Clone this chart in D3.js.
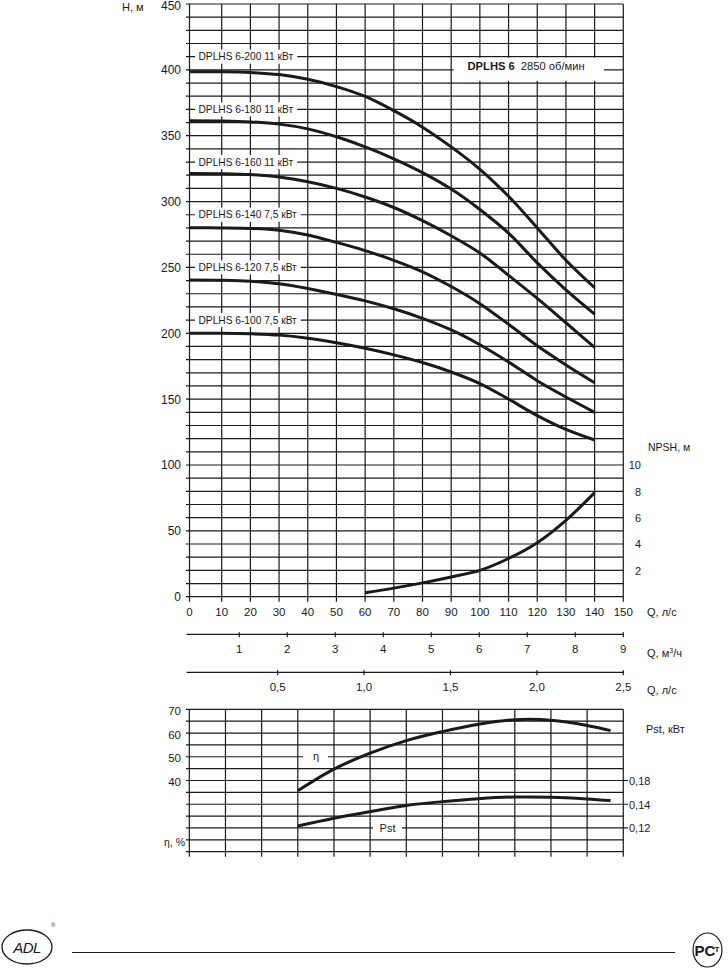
<!DOCTYPE html>
<html><head><meta charset="utf-8">
<script src="https://cdn.jsdelivr.net/npm/d3@7/dist/d3.min.js"></script>
<style>
body{margin:0;background:#fff}
text{font-family:"Liberation Sans",Arial,Helvetica,sans-serif;fill:#1a1a1a}
</style>
</head><body>
<svg id="c" width="728" height="969"></svg>
<script>
// ---------- DATA ----------
const qTicks = [0,10,20,30,40,50,60,70,80,90,100,110,120,130,140,150];
const hTickLabels = [0,50,100,150,200,250,300,350,400,450];
const qPoints = [0,10,20,30,40,50,60,70,80,90,100,110,120,130,140];
const curveNames = ["DPLHS 6-200 11 кВт","DPLHS 6-180 11 кВт","DPLHS 6-160 11 кВт","DPLHS 6-140 7,5 кВт","DPLHS 6-120 7,5 кВт","DPLHS 6-100 7,5 кВт"];
const labelHeads = [410,370,330,290,250,210];
const h200 = [398.5,398.5,398,396.4,392.8,387.3,379.8,369,356.5,341.5,324.5,304,280,255.5,234.6];
const h180 = [361.4,361.2,360.5,358.8,355.2,349.2,341.5,332.5,322,309.5,294,276,253.5,233,214.6];
const h160 = [321.4,321.2,320.5,318.6,315,310,303.5,295.5,285.5,274,261,244,226.5,208,189.3];
const h140 = [280.1,280,279.6,278.2,274.6,269,262.8,255.4,246.7,235.5,222.5,206.8,190.5,176,162.5];
const h120 = [240.4,240.2,239.5,237.6,234,229.5,224.6,218.6,211.3,202.5,191.3,178.2,164,151.6,140];
const h100 = [200,200,199.6,198.6,196.3,192.8,188.6,183.6,177.8,170.6,161.8,150,137.5,127,119];
const npshQ = [60,70,80,90,100,110,120,130,140];
const npshVals = [0.3,0.65,1.05,1.5,2.0,2.9,4.1,5.8,7.9];
const npshTicks = [2,4,6,8,10];
const m3hTicks = [1,2,3,4,5,6,7,8,9];
const lsTicks = [0.5,1.0,1.5,2.0,2.5];
const lsTickLabels = ["0,5","1,0","1,5","2,0","2,5"];
const effQ = [37.5,50,62.5,75,87.5,100,112.5,125,137.5,145.6];
const etaVals = [35.7,44.8,51.5,56.8,60.6,63.7,65.6,65.4,63.2,61];
const pstVals = [0.1217,0.1282,0.1338,0.1390,0.1444,0.1494,0.1522,0.1518,0.1489,0.1461];
const etaTicks = [40,50,60,70];
const pstTicks = [0.12,0.14,0.18];
const pstTickLabels = ["0,12","0,14","0,18"];

// ---------- SETUP ----------
const svg = d3.select("#c");
const ink = "#1a1a1a";
const x = d3.scaleLinear().domain([0,10,150]).range([189.5,221.7,623.3]);
const y = d3.scaleLinear().domain([0,450]).range([596.7,4]);
const yN = d3.scaleLinear().domain([0,45]).range([596.7,4]);
const xm3 = d3.scaleLinear().domain([0,9]).range([191.3,623.3]);
const xls = d3.scaleLinear().domain([0,2.5]).range([191.3,623.3]);
const xb = d3.scaleLinear().domain([0,150]).range([189.3,623.3]);
const yE = d3.scaleLinear().domain([10,70]).range([851.7,709.3]);
const yP = d3.scaleLinear().domain(pstTicks).range([yE(20),yE(30),yE(40)]);
const smooth = d3.curveCatmullRom.alpha(0.5);

// ---------- TOP GRID ----------
const g = svg.append("g");
d3.range(0,451,10).forEach(h=>{
  g.append("line").attr("x1",186).attr("x2",x(150)).attr("y1",y(h)).attr("y2",y(h))
   .attr("stroke",ink).attr("stroke-width",1.2);
});
qTicks.forEach(q=>{
  g.append("line").attr("x1",x(q)).attr("x2",x(q)).attr("y1",y(450)).attr("y2",y(0)+5)
   .attr("stroke",ink).attr("stroke-width",1.2);
});
hTickLabels.forEach(h=>{
  svg.append("text").attr("x",181).attr("y",Math.max(y(h)+4.5,10)).attr("text-anchor","end")
    .attr("font-size",12).text(h);
});
svg.append("text").attr("x",122).attr("y",11).attr("font-size",11).text("H, м");
qTicks.forEach(q=>{
  svg.append("text").attr("x",x(q)).attr("y",616).attr("text-anchor","middle")
    .attr("font-size",11.5).text(q);
});
svg.append("text").attr("x",647).attr("y",616).attr("font-size",11).text("Q, л/с");
npshTicks.forEach(n=>{
  svg.append("text").attr("x",641).attr("y",yN(n)+4.2).attr("text-anchor","end")
    .attr("font-size",11).text(n);
});
svg.append("text").attr("x",648).attr("y",451).attr("font-size",10.5).text("NPSH, м");

// ---------- LEGEND BOX ----------
svg.append("rect").attr("x",453.5).attr("y",57.8).attr("width",150.5).attr("height",23).attr("fill","#fff");
const lt = svg.append("text").attr("x",467.5).attr("y",69.5).attr("font-size",11.2);
lt.append("tspan").attr("font-weight","bold").text("DPLHS 6");
lt.append("tspan").attr("dx",6).text("2850 об/мин");

// ---------- CURVE LABELS ----------
curveNames.forEach((name,i)=>{
  const yy = y(labelHeads[i]);
  const t = svg.append("text").attr("x",198.5).attr("y",yy+3.6).attr("font-size",10.2).text(name);
  const w = t.node().getComputedTextLength();
  svg.insert("rect","text").attr("x",195).attr("y",yy-7).attr("width",w+7.5).attr("height",14).attr("fill","#fff");
});

// ---------- H CURVES ----------
const line = d3.line().x((d,i)=>x(qPoints[i])).y(d=>y(d)).curve(smooth);
[h200,h180,h160,h140,h120,h100].forEach(s=>{
  svg.append("path").attr("d",line(s)).attr("fill","none").attr("stroke",ink)
    .attr("stroke-width",3).attr("stroke-linecap","butt");
});
const nline = d3.line().x((d,i)=>x(npshQ[i])).y(d=>yN(d)).curve(smooth);
svg.append("path").attr("d",nline(npshVals)).attr("fill","none").attr("stroke",ink).attr("stroke-width",3);

// ---------- SECONDARY AXES ----------
function axisLine(yy, scale, ticks, labels){
  svg.append("line").attr("x1",186.5).attr("x2",623.3).attr("y1",yy).attr("y2",yy).attr("stroke",ink).attr("stroke-width",1.2);
  ticks.forEach((t,i)=>{
    svg.append("line").attr("x1",scale(t)).attr("x2",scale(t)).attr("y1",yy-2).attr("y2",yy+3).attr("stroke",ink).attr("stroke-width",1.2);
    svg.append("text").attr("x",scale(t)).attr("y",yy+19).attr("text-anchor","middle").attr("font-size",11.5).text(labels[i]);
  });
}
axisLine(634.3, xm3, m3hTicks, m3hTicks.map(String));
const t2 = svg.append("text").attr("x",647).attr("y",657).attr("font-size",11);
t2.append("tspan").text("Q, м");
t2.append("tspan").attr("font-size",7).attr("dy",-4).text("3");
t2.append("tspan").attr("dy",4).text("/ч");
axisLine(672.3, xls, lsTicks, lsTickLabels);
svg.append("text").attr("x",647).attr("y",694).attr("font-size",11).text("Q, л/с");

// ---------- LOWER CHART ----------
d3.range(10,71,5).forEach(v=>{
  const ext = (v===20||v===30||v===40) ? 628 : 623.3;
  svg.append("line").attr("x1",186).attr("x2",ext).attr("y1",yE(v)).attr("y2",yE(v)).attr("stroke",ink).attr("stroke-width",1.2);
});
d3.range(0,151,12.5).forEach(q=>{
  svg.append("line").attr("x1",xb(q)).attr("x2",xb(q)).attr("y1",yE(70)).attr("y2",yE(10)+5).attr("stroke",ink).attr("stroke-width",1.2);
});
etaTicks.forEach(v=>{
  svg.append("text").attr("x",181).attr("y",yE(v)+5.5).attr("text-anchor","end").attr("font-size",11.5).text(v);
});
svg.append("text").attr("x",185).attr("y",846).attr("text-anchor","end").attr("font-size",10.5).text("η, %");
pstTicks.forEach((p,i)=>{
  svg.append("text").attr("x",629).attr("y",yP(p)+4.5).attr("font-size",11).text(pstTickLabels[i]);
});
svg.append("text").attr("x",646).attr("y",733).attr("font-size",11).text("Pst, кВт");

const eline = d3.line().x((d,i)=>xb(effQ[i])).y(d=>yE(d)).curve(smooth);
svg.append("path").attr("d",eline(etaVals)).attr("fill","none").attr("stroke",ink).attr("stroke-width",3);
const pline = d3.line().x((d,i)=>xb(effQ[i])).y(d=>yP(d)).curve(smooth);
svg.append("path").attr("d",pline(pstVals)).attr("fill","none").attr("stroke",ink).attr("stroke-width",3);

svg.append("rect").attr("x",303).attr("y",yE(50)-6).attr("width",25).attr("height",12).attr("fill","#fff");
svg.append("text").attr("x",316).attr("y",yE(50)+3.5).attr("text-anchor","middle").attr("font-size",11).text("η");
svg.append("rect").attr("x",373).attr("y",yE(20)-6).attr("width",29).attr("height",12).attr("fill","#fff");
svg.append("text").attr("x",387.5).attr("y",yE(20)+4).attr("text-anchor","middle").attr("font-size",11).text("Pst");

// ---------- FOOTER ----------
svg.append("line").attr("x1",72).attr("x2",675).attr("y1",952.5).attr("y2",952.5).attr("stroke",ink).attr("stroke-width",1);
svg.append("ellipse").attr("cx",27).attr("cy",947).attr("rx",25).attr("ry",17).attr("fill","none").attr("stroke",ink).attr("stroke-width",1.3);
svg.append("text").attr("x",27).attr("y",953).attr("text-anchor","middle").attr("font-size",15).attr("font-style","italic").attr("letter-spacing",-0.5).text("ADL");
svg.append("text").attr("x",51).attr("y",927).attr("font-size",6).text("®");
svg.append("ellipse").attr("cx",707.5).attr("cy",950).attr("rx",14.5).attr("ry",17).attr("fill","none").attr("stroke",ink).attr("stroke-width",1.2);
svg.append("text").attr("x",705).attr("y",956).attr("text-anchor","middle").attr("font-size",15).attr("font-weight","bold").text("PC");
svg.append("text").attr("x",717).attr("y",952).attr("text-anchor","middle").attr("font-size",8).attr("font-weight","bold").text("T");
</script>
</body></html>
